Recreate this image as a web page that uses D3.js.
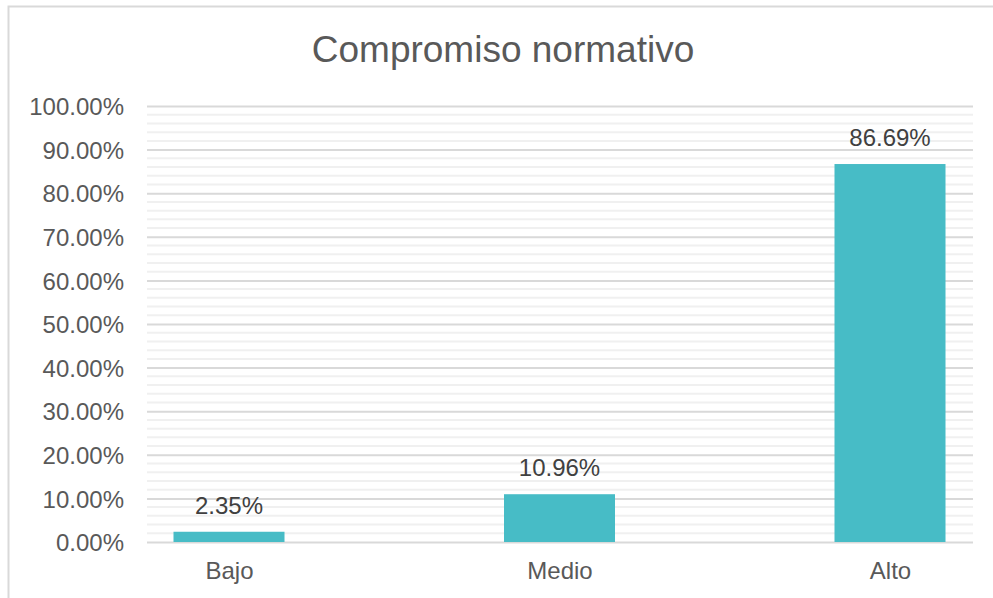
<!DOCTYPE html>
<html>
<head>
<meta charset="utf-8">
<script src="https://cdn.jsdelivr.net/npm/d3@7"></script>
<style>
  html, body { margin: 0; padding: 0; background: #fff; }
  svg { display: block; font-family: "Liberation Sans", Arial, sans-serif; }
</style>
</head>
<body>
<svg id="chart" width="993" height="598"></svg>
<script>
// Chart data
const title = "Compromiso normativo";
const categories = ["Bajo", "Medio", "Alto"];
const values = [2.35, 10.96, 86.69];
const yTicks = [0, 10, 20, 30, 40, 50, 60, 70, 80, 90, 100];
const yMinorTicks = d3.range(0, 100.001, 2);

const svg = d3.select("#chart");
const W = 993, H = 598;

// Outer chart frame (top and left edges visible)
svg.append("rect").attr("x", 8.5).attr("y", 6.5)
  .attr("width", W + 10).attr("height", H + 10)
  .attr("fill", "#fff").attr("stroke", "#d9d9d9").attr("stroke-width", 2);

// Plot extents
const gridLeft = 147, gridRight = 973;
const y = d3.scaleLinear().domain([0, 100]).range([542, 106]);
const x = d3.scalePoint().domain(categories).range([229, 890]);
const barWidth = 111;

// Minor gridlines
svg.append("g").selectAll("line").data(yMinorTicks.filter(v => v % 10 !== 0))
  .join("line")
  .attr("x1", gridLeft).attr("x2", gridRight)
  .attr("y1", d => y(d)).attr("y2", d => y(d))
  .attr("stroke", "#f0f0f0").attr("stroke-width", 2);

// Major gridlines via axis
const yAxis = d3.axisLeft(y).tickValues(yTicks)
  .tickFormat(d => d.toFixed(2) + "%")
  .tickSize(-(gridRight - gridLeft)).tickPadding(23);
const gy = svg.append("g").attr("transform", `translate(${gridLeft},0)`).call(yAxis);
gy.select(".domain").remove();
gy.selectAll(".tick line").attr("stroke", "#d9d9d9").attr("stroke-width", 2);
gy.selectAll(".tick text").attr("fill", "#595959")
  .attr("font-size", 24).attr("dy", "0.36em")
  .attr("font-family", "'Liberation Sans', Arial, sans-serif");

// Bars
svg.append("g").selectAll("rect").data(values).join("rect")
  .attr("x", (d, i) => x(categories[i]) - barWidth / 2)
  .attr("width", barWidth)
  .attr("y", d => y(d))
  .attr("height", d => y(0) - y(d))
  .attr("fill", "#47bcc6");

// Value labels
svg.append("g").selectAll("text").data(values).join("text")
  .attr("x", (d, i) => x(categories[i]))
  .attr("y", d => y(d) - 18)
  .attr("text-anchor", "middle")
  .attr("font-size", 24).attr("fill", "#404040")
  .text(d => d.toFixed(2) + "%");

// Category labels
const xAxis = d3.axisBottom(x).tickSize(0).tickPadding(0);
const gx = svg.append("g").attr("transform", `translate(0,${y(0)})`).call(xAxis);
gx.select(".domain").remove();
gx.selectAll(".tick text").attr("fill", "#595959").attr("font-size", 24)
  .attr("dy", 0).attr("y", 37)
  .attr("font-family", "'Liberation Sans', Arial, sans-serif");

// Title
svg.append("text").attr("x", 503).attr("y", 62)
  .attr("text-anchor", "middle").attr("font-size", 37).attr("fill", "#595959")
  .text(title);
</script>
</body>
</html>
